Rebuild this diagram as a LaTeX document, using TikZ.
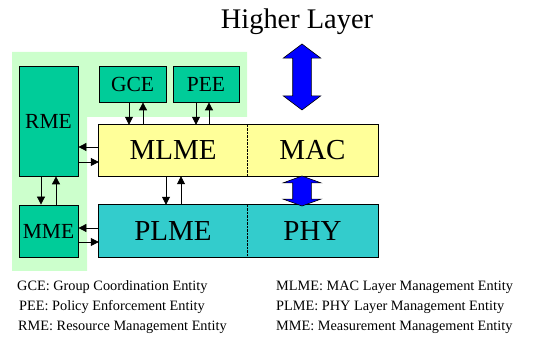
\documentclass[tikz,border=0pt]{standalone}
\usepackage{fontspec}
\setmainfont{Liberation Serif}
\usetikzlibrary{positioning,arrows.meta,shapes.arrows}
\definecolor{bggreen}{HTML}{CCFFCC}
\definecolor{entgreen}{HTML}{00CC99}
\definecolor{macyellow}{HTML}{FFFF99}
\definecolor{phycyan}{HTML}{33CCCC}

\begin{document}
\begin{tikzpicture}[x=1pt,y=1pt]
\tikzset{node distance=80pt,
    entity/.style={rectangle, draw, line width=0.8pt, fill=entgreen, inner sep=0pt, font=\fontsize{21.5}{21.5}\selectfont},
    layer/.style={rectangle, inner sep=0pt, minimum height=51pt, font=\fontsize{29}{29}\selectfont},
    bigarrow/.style={double arrow, draw, line width=0.6pt, fill=blue, rotate=90, inner xsep=0pt, inner ysep=9pt, double arrow head extend=9.5pt},
    legend/.style={anchor=base west, inner sep=0pt, font=\fontsize{14.3}{14.3}\selectfont},
    link/.style={-{Triangle[length=8pt,width=8pt]}, line width=0.8pt}
}
  \useasboundingbox (0,0) rectangle (537,339);
  % management plane
  \fill[bggreen] (12,287) -- (247,287) -- (247,222) -- (87,222) -- (87,68) -- (12,68) -- cycle;

  \node[entity, minimum width=59pt, minimum height=110pt] (rme) at (48.5,218) {RME};
  \node[entity, minimum width=59pt, minimum height=52pt, below of=rme, node distance=110pt] (mme) {MME};
  \node[entity, minimum width=67pt, minimum height=36pt] (gce) at (132.5,255) {GCE};
  \node[entity, minimum width=66pt, minimum height=36pt, right of=gce, node distance=73.5pt] (pee) {PEE};

  \node[layer, fill=macyellow, minimum width=148pt] (mlme) at (173,188.5) {MLME};
  \node[layer, fill=macyellow, minimum width=131pt, right of=mlme, node distance=139.5pt] (mac) {MAC};
  \node[layer, fill=phycyan, minimum width=148pt, minimum height=52pt, below of=mlme, node distance=80.5pt] (plme) {PLME};
  \node[layer, fill=phycyan, minimum width=131pt, minimum height=52pt, right of=plme, node distance=139.5pt] (phy) {PHY};
  \draw[line width=0.8pt] (mlme.north west) rectangle (mac.south east);
  \draw[line width=0.8pt] (plme.north west) rectangle (phy.south east);
  \draw[densely dotted] (mlme.north east) -- (mlme.south east);
  \draw[densely dotted] (plme.north east) -- (plme.south east);

  \node[anchor=base, inner sep=0pt, font=\fontsize{28.4}{28.4}\selectfont] (higher) at (297,310) {Higher Layer};
  \node[bigarrow, minimum height=66pt, double arrow tip angle=106] (toparrow) at (302,262) {};
  \node[bigarrow, minimum height=30pt, double arrow tip angle=140] (midarrow) at (302,148) {};

  \draw[link] ([xshift=-3.5pt]gce.south) -- ([xshift=-3.5pt]gce.south |- mlme.north);
  \draw[link] ([xshift=10.5pt]gce.south |- mlme.north) -- ([xshift=10.5pt]gce.south);
  \draw[link] ([xshift=-10pt]pee.south) -- ([xshift=-10pt]pee.south |- mlme.north);
  \draw[link] ([xshift=3pt]pee.south |- mlme.north) -- ([xshift=3pt]pee.south);
  \draw[link] ([yshift=3.5pt]mlme.west) -- ([yshift=3.5pt]mlme.west -| rme.east);
  \draw[link] ([yshift=-11.5pt]mlme.west -| rme.east) -- ([yshift=-11.5pt]mlme.west);
  \draw[link] ([xshift=-7.5pt]rme.south) -- ([xshift=-7.5pt]mme.north);
  \draw[link] ([xshift=7.5pt]mme.north) -- ([xshift=7.5pt]rme.south);
  \draw[link] ([xshift=-7pt]mlme.south) -- ([xshift=-7pt]plme.north);
  \draw[link] ([xshift=8pt]plme.north) -- ([xshift=8pt]mlme.south);
  \draw[link] ([yshift=3pt]plme.west) -- ([yshift=3pt]plme.west -| mme.east);
  \draw[link] ([yshift=-11pt]plme.west -| mme.east) -- ([yshift=-11pt]plme.west);

  \node[legend] (lgce) at (17,48) {GCE: Group Coordination Entity};
  \node[legend] (lpee) at (19,28) {PEE: Policy Enforcement Entity};
  \node[legend] (lrme) at (18,8) {RME: Resource Management Entity};
  \node[legend] (lmlme) at (276,48) {MLME: MAC Layer Management Entity};
  \node[legend] (lplme) at (276,28) {PLME: PHY Layer Management Entity};
  \node[legend] (lmme) at (276,8) {MME: Measurement Management Entity};
\end{tikzpicture}
\end{document}
